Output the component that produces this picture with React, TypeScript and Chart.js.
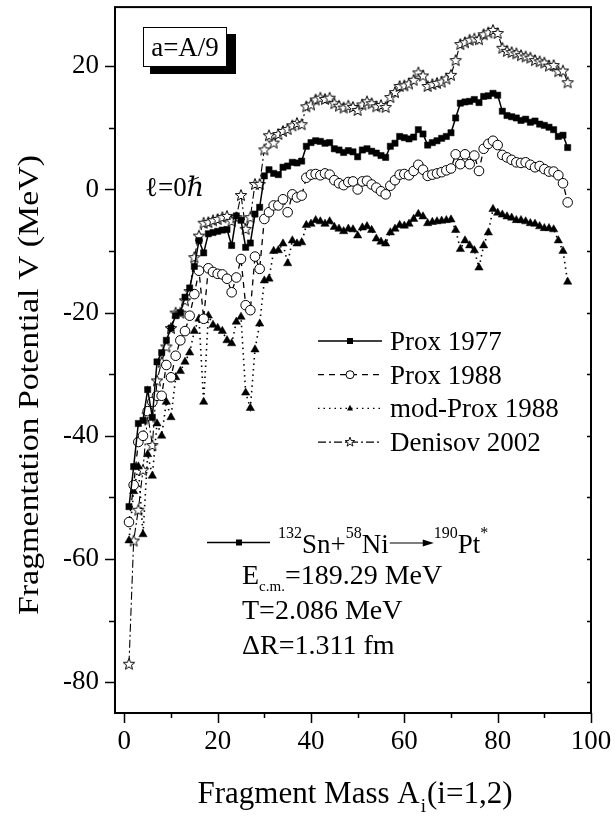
import React, { useEffect, useRef } from "react";
import { Chart, registerables } from "chart.js";

Chart.register(...registerables);

const SERIF = '"Liberation Serif", "Times New Roman", "DejaVu Serif", serif';

// ---- data ----
const fragmentMass = [
  1, 2, 3, 4, 5, 6, 7, 8, 9, 10,
  11, 12, 13, 14, 15, 16, 17, 18, 19, 20,
  21, 22, 23, 24, 25, 26, 27, 28, 29, 30,
  31, 32, 33, 34, 35, 36, 37, 38, 39, 40,
  41, 42, 43, 44, 45, 46, 47, 48, 49, 50,
  51, 52, 53, 54, 55, 56, 57, 58, 59, 60,
  61, 62, 63, 64, 65, 66, 67, 68, 69, 70,
  71, 72, 73, 74, 75, 76, 77, 78, 79, 80,
  81, 82, 83, 84, 85, 86, 87, 88, 89, 90,
  91, 92, 93, 94, 95,
];

const prox1977 = [
  -51.5, -45, -38, -37.5, -32.5, -37, -28, -26.5, -24.5, -22.5,
  -20.5, -20, -17.5, -16, -12.5, -8.3, -10.3, -7.2, -7, -6.8,
  -6.6, -6.5, -9.1, -4.3, -5.0, -9.4, -8.7, -4.0, -2.9, 2.2,
  3.2, 2.6, 2.4, 3.6, 3.8, 4.4, 4.3, 4.6, 7.0, 7.6,
  7.9, 7.8, 7.5, 7.6, 6.6, 6.4, 6.0, 6.3, 6.1, 5.3,
  6.4, 6.6, 6.2, 5.9, 5.5, 5.2, 7.0, 7.5, 8.6, 8.4,
  8.2, 8.5, 9.7, 9.0, 7.2, 7.6, 7.9, 8.3, 8.6, 9.2,
  11.6, 14.0, 14.2, 14.3, 14.6, 14.1, 15.1, 15.2, 15.6, 15.3,
  12.7, 12.0, 11.8, 11.6, 11.2, 11.4, 10.9, 11.1, 10.6, 10.4,
  10.1, 9.7, 8.6, 8.8, 6.8,
];

const prox1988 = [
  -54, -48, -41, -40, -36, -34.5, -33.5, -33.5, -28.5, -30.5,
  -27, -24.5, -23, -20.5, -17, -13.2, -21, -12.8, -13.4, -13.7,
  -13.8, -14.5, -16.7, -14.3, -11.3, -18.8, -19.6, -10.9, -12.9, -4.8,
  -3.7, -2.6, -2.6, -1.6, -3.7, -0.8, -1.3, -1.0, 1.9, 2.4,
  2.5, 2.3, 2.6, 2.4, 1.5, 1.0, 0.7, 1.2, 1.3, 0.0,
  1.3, 1.4, 0.8, 0.3, -0.3, -0.8, 0.6, 1.5, 2.4, 2.5,
  2.3, 3.0, 4.0, 3.2, 2.2, 2.4, 2.6, 2.8, 3.1, 3.4,
  5.7, 4.1, 5.7, 4.1, 5.5, 3.0, 6.6, 7.4, 7.9, 7.2,
  5.6, 5.2, 4.8, 4.4, 4.3, 4.4, 4.0, 3.6, 3.8, 3.3,
  2.9, 2.9, 2.3, 1.0, -2.1,
];

const modProx1988 = [
  -57, -49, -45, -56, -43, -46.5, -38, -40, -34.5, -37,
  -30.5, -29.5, -28, -26.5, -23, -21, -34.5, -20.5, -22, -22.5,
  -23, -24.5, -25, -21.5, -20.7, -33, -35.5, -26, -21.8, -14.8,
  -14.5, -10, -9.9, -8.8, -12, -8.3, -8.8, -8.6, -5.8, -5.6,
  -5.0, -5.2, -5.6, -5.2, -6.1, -6.4, -6.8, -6.4, -6.5, -7.5,
  -6.2, -6.0, -6.6, -8.0, -8.5, -8.8, -7.0, -6.4, -5.8, -5.9,
  -5.6, -4.8, -4.0, -4.4, -5.5, -5.3, -5.2, -5.1, -5.0, -4.9,
  -6.6, -9.7, -8.3, -9.1, -9.9, -12.7, -9.1, -7.0, -3.2, -3.8,
  -4.1, -4.4, -4.6, -5.0, -5.0, -5.2, -5.5, -5.6, -6.0, -6.3,
  -6.3, -6.5, -8.3, -10.0, -15.0,
];

const denisov2002 = [
  -77, -57, -52, -45.5, -36.5, -41.5, -31, -28, -25.5, -22.5,
  -20, -20, -18, -16.5, -11, -7.5, -5.4, -5.3, -5, -4.8,
  -4.5, -4.3, -5.1, -4.5, -0.9, -6.4, -4.5, 0.9, 0.9, 6.5,
  8.8, 7.6, 9.0, 9.5, 9.8, 10.4, 10.8, 10.6, 13.5, 13.8,
  14.6, 14.9, 14.7, 14.9, 14.0, 13.6, 13.3, 13.6, 13.4, 12.9,
  13.8, 14.3, 14.0, 13.5, 13.7, 13.4, 15.0, 15.8, 16.8, 16.9,
  17.2, 17.8, 19.0, 18.5, 16.8, 17.1, 17.3, 17.5, 18.0, 18.6,
  21.0, 23.6, 23.9, 24.3, 24.5, 24.4, 25.2, 25.5, 25.9, 25.4,
  23.0, 22.5, 22.3, 22.1, 21.8, 21.6, 21.4, 21.0, 20.8, 20.6,
  20.1, 20.2, 19.2, 19.3, 17.4,
];

const seriesNames = ["Prox 1977", "Prox 1988", "mod-Prox 1988", "Denisov 2002"];
const xLabelValues = [0, 20, 40, 60, 80, 100];
const yLabelValues = [-80, -60, -40, -20, 0, 20];

const boxLabel = "a=A/9";
const xTitleMain = "Fragment Mass A";
const xTitleSub = "i";
const xTitleTail = "(i=1,2)";
const yTitle = "Fragmentation Potential V (MeV)";
const energyText = "=189.29 MeV";
const tempText = "T=2.086 MeV";
const deltaText = "\u0394R=1.311 fm";

// ---- marker helpers ----
function drawStarPath(ctx: CanvasRenderingContext2D, x: number, y: number, outer: number, inner: number) {
  ctx.beginPath();
  for (let i = 0; i < 10; i++) {
    const r = i % 2 === 0 ? outer : inner;
    const a = -Math.PI / 2 + (i * Math.PI) / 5;
    const px = x + r * Math.cos(a);
    const py = y + r * Math.sin(a);
    if (i === 0) ctx.moveTo(px, py);
    else ctx.lineTo(px, py);
  }
  ctx.closePath();
}

function makeStar(outer: number, inner: number, lw: number): HTMLCanvasElement {
  const size = Math.ceil(outer * 2 + lw * 2 + 2);
  const c = document.createElement("canvas");
  c.width = size;
  c.height = size;
  const ctx = c.getContext("2d")!;
  ctx.translate(size / 2, size / 2 + outer * 0.1);
  drawStarPath(ctx, 0, 0, outer, inner);
  ctx.fillStyle = "#fff";
  ctx.fill();
  ctx.lineWidth = lw;
  ctx.strokeStyle = "#000";
  ctx.stroke();
  return c;
}

function drawMarker(ctx: CanvasRenderingContext2D, kind: string, x: number, y: number, s: number) {
  ctx.save();
  ctx.setLineDash([]);
  ctx.strokeStyle = "#000";
  ctx.fillStyle = "#000";
  if (kind === "square") {
    ctx.fillRect(x - s / 2, y - s / 2, s, s);
  } else if (kind === "circle") {
    ctx.beginPath();
    ctx.arc(x, y, s / 2, 0, Math.PI * 2);
    ctx.fillStyle = "#fff";
    ctx.fill();
    ctx.lineWidth = 1;
    ctx.stroke();
  } else if (kind === "triangle") {
    ctx.beginPath();
    ctx.moveTo(x, y - s * 0.6);
    ctx.lineTo(x + s / 2, y + s * 0.35);
    ctx.lineTo(x - s / 2, y + s * 0.35);
    ctx.closePath();
    ctx.fill();
  } else if (kind === "star") {
    drawStarPath(ctx, x, y, s / 2, s / 5);
    ctx.fillStyle = "#fff";
    ctx.fill();
    ctx.lineWidth = 0.9;
    ctx.stroke();
  }
  ctx.restore();
}

const seriesDash = [[], [6, 5], [1.5, 4], [8, 3, 2, 3]];
const seriesKinds = ["square", "circle", "triangle", "star"];

// ---- decorations plugin ----
const decorPlugin = {
  id: "decor",
  afterDraw(chart: any) {
    const ctx: CanvasRenderingContext2D = chart.ctx;
    const { left, right, top, bottom } = chart.chartArea;
    const xs = chart.scales.x;
    const ys = chart.scales.y;
    ctx.save();
    ctx.strokeStyle = "#000";
    ctx.fillStyle = "#000";
    ctx.setLineDash([]);

    // frame
    ctx.lineWidth = 2;
    ctx.strokeRect(left, top, right - left, bottom - top);

    // ticks
    ctx.lineWidth = 1.5;
    ctx.beginPath();
    for (let v = -80; v <= 20; v += 10) {
      const py = Math.round(ys.getPixelForValue(v)) + 0.5;
      const len = v % 20 === 0 ? 10 : 6;
      ctx.moveTo(left - len, py);
      ctx.lineTo(left, py);
      ctx.moveTo(right, py);
      ctx.lineTo(right - 4, py);
    }
    for (let v = 0; v <= 100; v += 10) {
      const px = Math.round(xs.getPixelForValue(v)) + 0.5;
      const len = v % 20 === 0 ? 10 : 5;
      ctx.moveTo(px, bottom);
      ctx.lineTo(px, bottom + len);
    }
    ctx.stroke();

    // x title
    ctx.textBaseline = "alphabetic";
    ctx.textAlign = "left";
    const mainFont = `31px ${SERIF}`;
    const subFont = `19px ${SERIF}`;
    ctx.font = mainFont;
    const w1 = ctx.measureText(xTitleMain).width;
    const w3 = ctx.measureText(xTitleTail).width;
    ctx.font = subFont;
    const w2 = ctx.measureText(xTitleSub).width;
    const total = w1 + w2 + w3 + 2;
    let tx = 355 - total / 2;
    const tb = 803;
    ctx.font = mainFont;
    ctx.fillText(xTitleMain, tx, tb);
    tx += w1 + 1;
    ctx.font = subFont;
    ctx.fillText(xTitleSub, tx, tb + 9);
    tx += w2 + 1;
    ctx.font = mainFont;
    ctx.fillText(xTitleTail, tx, tb);

    // y title
    ctx.save();
    ctx.font = `30px ${SERIF}`;
    const yw = ctx.measureText(yTitle).width;
    ctx.translate(38, 385);
    ctx.rotate(-Math.PI / 2);
    ctx.scale(460 / yw, 1);
    ctx.textAlign = "center";
    ctx.fillText(yTitle, 0, 0);
    ctx.restore();

    // a=A/9 box with shadow
    ctx.fillStyle = "#000";
    ctx.fillRect(150, 34, 86, 40);
    ctx.fillStyle = "#fff";
    ctx.fillRect(143, 27, 84, 40);
    ctx.lineWidth = 1;
    ctx.strokeRect(143.5, 27.5, 83, 39);
    ctx.fillStyle = "#000";
    ctx.font = `27px ${SERIF}`;
    ctx.textAlign = "center";
    ctx.fillText(boxLabel, 185, 56);

    // l = 0 hbar
    ctx.textAlign = "left";
    ctx.font = `27px ${SERIF}`;
    const lpart = "\u2113=0";
    ctx.fillText(lpart, 145, 196);
    const lw = ctx.measureText(lpart).width;
    ctx.font = `italic 27px ${SERIF}`;
    ctx.fillText("\u210F", 145 + lw, 196);

    // legend
    ctx.font = `27px ${SERIF}`;
    seriesNames.forEach((name, i) => {
      const ry = 341 + i * 33.7;
      ctx.save();
      ctx.lineWidth = i === 0 ? 1.6 : 1.3;
      ctx.setLineDash(seriesDash[i]);
      ctx.beginPath();
      ctx.moveTo(318, ry);
      ctx.lineTo(382, ry);
      ctx.stroke();
      ctx.restore();
      drawMarker(ctx, seriesKinds[i], 350, ry, i === 1 ? 8 : i === 3 ? 10 : 6);
      ctx.fillStyle = "#000";
      ctx.fillText(name, 390, ry + 9);
    });

    // reaction line
    ctx.lineWidth = 1.6;
    ctx.beginPath();
    ctx.moveTo(207, 542.5);
    ctx.lineTo(270, 542.5);
    ctx.stroke();
    drawMarker(ctx, "square", 239, 542.5, 6);
    const big = `27px ${SERIF}`;
    const sup = `16px ${SERIF}`;
    let cx = 278;
    const base = 553;
    const put = (t: string, font: string, dy: number) => {
      ctx.font = font;
      ctx.fillText(t, cx, base + dy);
      cx += ctx.measureText(t).width;
    };
    put("132", sup, -15);
    put("Sn+", big, 0);
    put("58", sup, -15);
    put("Ni", big, 0);
    const ax0 = cx + 1;
    const ax1 = ax0 + 44;
    ctx.lineWidth = 1.2;
    ctx.beginPath();
    ctx.moveTo(ax0, 543);
    ctx.lineTo(ax1 - 8, 543);
    ctx.stroke();
    ctx.beginPath();
    ctx.moveTo(ax1, 543);
    ctx.lineTo(ax1 - 11, 539.5);
    ctx.lineTo(ax1 - 11, 546.5);
    ctx.closePath();
    ctx.fill();
    cx = ax1;
    put("190", sup, -15);
    put("Pt", big, 0);
    put("*", sup, -15);

    // energy lines
    const big28 = `28px ${SERIF}`;
    const x0 = 242;
    cx = x0;
    const eb = 584;
    ctx.font = big28;
    ctx.fillText("E", cx, eb);
    cx += ctx.measureText("E").width;
    ctx.font = `15px ${SERIF}`;
    ctx.fillText("c.m.", cx, eb + 7);
    cx += ctx.measureText("c.m.").width;
    ctx.font = big28;
    ctx.fillText(energyText, cx, eb);
    ctx.fillText(tempText, x0, 619);
    ctx.fillText(deltaText, x0, 654);

    ctx.restore();
  },
};

export default function App() {
  const ref = useRef<HTMLCanvasElement | null>(null);

  useEffect(() => {
    if (!ref.current) return;
    const star = makeStar(6, 2.6, 1);
    const pts = (ys: number[]) => fragmentMass.map((x, i) => ({ x, y: ys[i] }));
    const chart = new Chart(ref.current, {
      type: "line",
      data: {
        datasets: [
          {
            label: seriesNames[0],
            data: pts(prox1977),
            borderColor: "#000",
            borderWidth: 1.5,
            borderDash: seriesDash[0],
            pointStyle: "rect",
            pointRadius: 4.4,
            pointBackgroundColor: "#000",
            pointBorderColor: "#000",
            pointBorderWidth: 0.5,
            tension: 0,
            fill: false,
          },
          {
            label: seriesNames[1],
            data: pts(prox1988),
            borderColor: "#000",
            borderWidth: 1.3,
            borderDash: seriesDash[1],
            pointStyle: "circle",
            pointRadius: 4.8,
            pointBackgroundColor: "#fff",
            pointBorderColor: "#000",
            pointBorderWidth: 1,
            tension: 0,
            fill: false,
          },
          {
            label: seriesNames[2],
            data: pts(modProx1988),
            borderColor: "#000",
            borderWidth: 1.6,
            borderDash: seriesDash[2],
            pointStyle: "triangle",
            pointRadius: 4.8,
            pointBackgroundColor: "#000",
            pointBorderColor: "#000",
            pointBorderWidth: 0.5,
            tension: 0,
            fill: false,
          },
          {
            label: seriesNames[3],
            data: pts(denisov2002),
            borderColor: "#000",
            borderWidth: 1.1,
            borderDash: seriesDash[3],
            pointStyle: star as any,
            pointRadius: 6,
            tension: 0,
            fill: false,
          },
        ],
      },
      options: {
        responsive: false,
        maintainAspectRatio: false,
        devicePixelRatio: 1,
        animation: false,
        events: [],
        layout: { padding: { left: 0, top: 4, right: 24, bottom: 0 } },
        plugins: { legend: { display: false }, tooltip: { enabled: false } },
        scales: {
          x: {
            type: "linear",
            min: -2,
            max: 100,
            grid: { display: false, drawTicks: false },
            border: { display: false },
            ticks: {
              stepSize: 10,
              includeBounds: false,
              padding: 13,
              maxRotation: 0,
              autoSkip: false,
              color: "#000",
              font: { family: SERIF, size: 27 },
              callback: (v: any) => (xLabelValues.includes(Number(v)) ? String(v) : ""),
            },
            afterFit: (s: any) => {
              s.height = 103;
              s.paddingLeft = 0;
              s.paddingRight = 0;
            },
          },
          y: {
            type: "linear",
            min: -85,
            max: 29.6,
            grid: { display: false, drawTicks: false },
            border: { display: false },
            ticks: {
              stepSize: 10,
              includeBounds: false,
              padding: 16,
              autoSkip: false,
              color: "#000",
              font: { family: SERIF, size: 27 },
              callback: (v: any) => (yLabelValues.includes(Number(v)) ? String(v) : ""),
            },
            afterFit: (s: any) => {
              s.width = 115;
              s.paddingTop = 0;
              s.paddingBottom = 0;
            },
          },
        },
      },
      plugins: [decorPlugin],
    });
    return () => chart.destroy();
  }, []);

  return (
    <div style={{ position: "absolute", left: 0, top: 0, width: 615, height: 816, background: "#fff" }}>
      <canvas ref={ref} width={615} height={816} style={{ display: "block", width: 615, height: 816 }} />
    </div>
  );
}
